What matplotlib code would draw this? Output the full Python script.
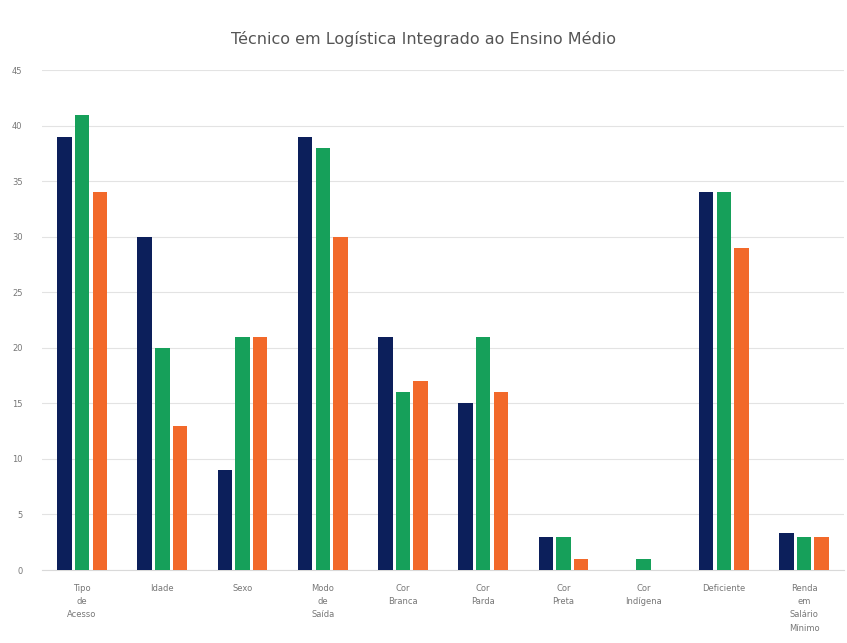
import matplotlib
matplotlib.use("Agg")
import matplotlib.pyplot as plt
import numpy as np

categories = ["Tipo\nde\nAcesso", "Idade", "Sexo", "Modo\nde\nSaída", "Cor\nBranca",
              "Cor\nParda", "Cor\nPreta", "Cor\nIndígena", "Deficiente",
              "Renda\nem\nSalário\nMínimo"]
serie_a = [39, 30, 9, 39, 21, 15, 3, 0, 34, 3.3]
serie_b = [41, 20, 21, 38, 16, 21, 3, 1, 34, 3]
serie_c = [34, 13, 21, 30, 17, 16, 1, 0, 29, 3]
yticks = [0, 5, 10, 15, 20, 25, 30, 35, 40, 45]

colors = ["#0c1f5b", "#16a05a", "#f2692a"]

fig = plt.figure(figsize=(8.47, 6.43), dpi=100)
ax = fig.add_axes([0.0496, 0.1135, 0.947, 0.7775])

x = np.arange(len(categories))
w = 0.18
step = 0.22
for i, (vals, c) in enumerate(zip([serie_a, serie_b, serie_c], colors)):
    ax.bar(x + (i - 1) * step, vals, width=w, color=c, zorder=3)

ax.set_xlim(-0.5, len(categories) - 0.5)
ax.set_ylim(0, 45)
ax.set_yticks(yticks)
ax.set_yticklabels([str(t) for t in yticks], fontsize=6, color="#777777")
ax.set_xticks(x)
ax.set_xticklabels(categories, fontsize=6, color="#777777", linespacing=1.6)
ax.tick_params(axis="x", length=0, pad=10)
ax.tick_params(axis="y", length=0, pad=14)
ax.grid(axis="y", color="#e3e3e3", linewidth=0.8, zorder=0)
for s in ["top", "right", "left"]:
    ax.spines[s].set_visible(False)
ax.spines["bottom"].set_color("#d9d9d9")

fig.suptitle("Técnico em Logística Integrado ao Ensino Médio", y=0.952,
             fontsize=11.5, color="#555555")

fig.savefig("out.png", dpi=100)
